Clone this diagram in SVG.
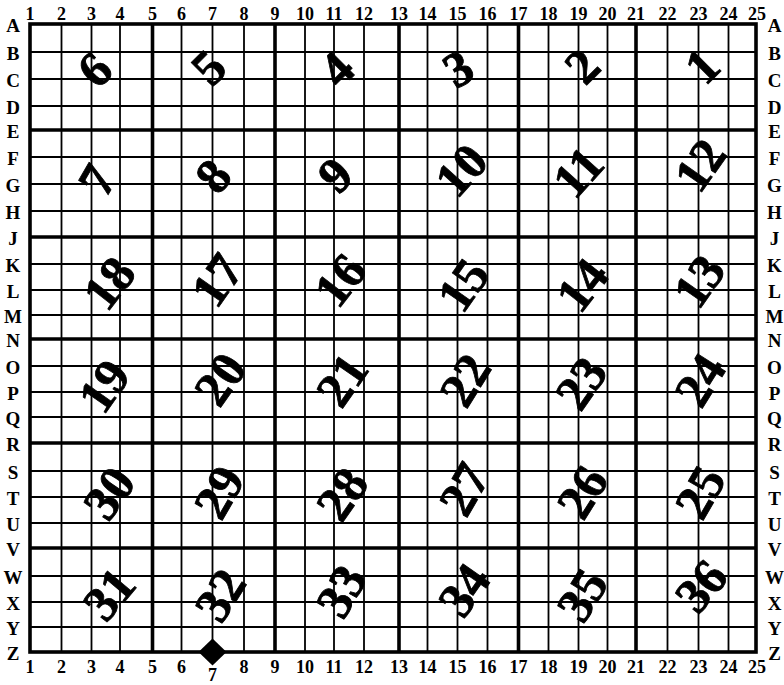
<svg xmlns="http://www.w3.org/2000/svg" width="784" height="685" viewBox="0 0 784 685">
<style>
.thin{stroke:#000;stroke-width:1.8;fill:none}
.thick{stroke:#000;stroke-width:3.6;fill:none}
.lab{font-family:"Liberation Serif","Times New Roman",serif;font-weight:bold;font-size:18px;fill:#000;text-anchor:middle}
.let{font-family:"Liberation Serif","Times New Roman",serif;font-weight:bold;font-size:19px;fill:#000}
.num{font-family:"Liberation Serif","Times New Roman",serif;font-weight:bold;font-size:50px;fill:#000;text-anchor:middle;stroke:#000;stroke-width:0.8}
</style>
<rect width="784" height="685" fill="#fff"/>
<g id="connectors">
<g id="thin-lines" class="thin">
<line x1="61.5" y1="24" x2="61.5" y2="652"/><line x1="91.5" y1="24" x2="91.5" y2="652"/><line x1="120" y1="24" x2="120" y2="652"/>
<line x1="181.5" y1="24" x2="181.5" y2="652"/><line x1="212.5" y1="24" x2="212.5" y2="652"/><line x1="244" y1="24" x2="244" y2="652"/>
<line x1="305" y1="24" x2="305" y2="652"/><line x1="334" y1="24" x2="334" y2="652"/><line x1="364" y1="24" x2="364" y2="652"/>
<line x1="427.5" y1="24" x2="427.5" y2="652"/><line x1="457.5" y1="24" x2="457.5" y2="652"/><line x1="487.5" y1="24" x2="487.5" y2="652"/>
<line x1="548.5" y1="24" x2="548.5" y2="652"/><line x1="578.5" y1="24" x2="578.5" y2="652"/><line x1="607.5" y1="24" x2="607.5" y2="652"/>
<line x1="667.5" y1="24" x2="667.5" y2="652"/><line x1="698.5" y1="24" x2="698.5" y2="652"/><line x1="728.5" y1="24" x2="728.5" y2="652"/>
<line x1="30" y1="52" x2="756" y2="52"/><line x1="30" y1="79" x2="756" y2="79"/><line x1="30" y1="106" x2="756" y2="106"/>
<line x1="30" y1="157" x2="756" y2="157"/><line x1="30" y1="184" x2="756" y2="184"/><line x1="30" y1="211" x2="756" y2="211"/>
<line x1="30" y1="264" x2="756" y2="264"/><line x1="30" y1="290" x2="756" y2="290"/><line x1="30" y1="315" x2="756" y2="315"/>
<line x1="30" y1="366" x2="756" y2="366"/><line x1="30" y1="392" x2="756" y2="392"/><line x1="30" y1="417" x2="756" y2="417"/>
<line x1="30" y1="471" x2="756" y2="471"/><line x1="30" y1="497" x2="756" y2="497"/><line x1="30" y1="523" x2="756" y2="523"/>
<line x1="30" y1="576" x2="756" y2="576"/><line x1="30" y1="602" x2="756" y2="602"/><line x1="30" y1="627" x2="756" y2="627"/>
</g>
<g id="thick-lines" class="thick">
<line x1="152.5" y1="24" x2="152.5" y2="652"/><line x1="275" y1="24" x2="275" y2="652"/><line x1="399" y1="24" x2="399" y2="652"/>
<line x1="518.5" y1="24" x2="518.5" y2="652"/><line x1="636" y1="24" x2="636" y2="652"/>
<line x1="30" y1="130" x2="756" y2="130"/><line x1="30" y1="237" x2="756" y2="237"/><line x1="30" y1="339" x2="756" y2="339"/>
<line x1="30" y1="443" x2="756" y2="443"/><line x1="30" y1="548" x2="756" y2="548"/>
<rect x="30" y="24" width="726" height="628"/>
</g>
</g>
<g id="top-labels" class="lab">
<text x="30" y="20">1</text><text x="61.5" y="20">2</text><text x="91.5" y="20">3</text><text x="120" y="20">4</text><text x="152.5" y="20">5</text>
<text x="181.5" y="20">6</text><text x="212.5" y="20">7</text><text x="244" y="20">8</text><text x="275" y="20">9</text><text x="305" y="20">10</text>
<text x="334" y="20">11</text><text x="364" y="20">12</text><text x="399" y="20">13</text><text x="427.5" y="20">14</text><text x="457.5" y="20">15</text>
<text x="487.5" y="20">16</text><text x="518.5" y="20">17</text><text x="548.5" y="20">18</text><text x="578.5" y="20">19</text><text x="607.5" y="20">20</text>
<text x="636" y="20">21</text><text x="667.5" y="20">22</text><text x="698.5" y="20">23</text><text x="728.5" y="20">24</text><text x="757" y="20">25</text>
</g>
<g id="bottom-labels" class="lab">
<text x="30" y="673">1</text><text x="61.5" y="673">2</text><text x="91.5" y="673">3</text><text x="120" y="673">4</text><text x="152.5" y="673">5</text>
<text x="181.5" y="673">6</text><text x="244" y="673">8</text><text x="275" y="673">9</text><text x="305" y="673">10</text>
<text x="334" y="673">11</text><text x="364" y="673">12</text><text x="399" y="673">13</text><text x="427.5" y="673">14</text><text x="457.5" y="673">15</text>
<text x="487.5" y="673">16</text><text x="518.5" y="673">17</text><text x="548.5" y="673">18</text><text x="578.5" y="673">19</text><text x="607.5" y="673">20</text>
<text x="636" y="673">21</text><text x="667.5" y="673">22</text><text x="698.5" y="673">23</text><text x="728.5" y="673">24</text><text x="757" y="673">25</text>
</g>
<g id="left-labels" class="let" text-anchor="middle">
<text x="13" y="31.5">A</text><text x="13" y="59.5">B</text><text x="13" y="86.5">C</text><text x="13" y="113.5">D</text><text x="13" y="137.5">E</text>
<text x="13" y="164.5">F</text><text x="13" y="191.5">G</text><text x="13" y="218.5">H</text><text x="13" y="244.5">J</text><text x="13" y="271.5">K</text>
<text x="13" y="297.5">L</text><text x="13" y="322.5">M</text><text x="13" y="346.5">N</text><text x="13" y="373.5">O</text><text x="13" y="399.5">P</text>
<text x="13" y="424.5">Q</text><text x="13" y="450.5">R</text><text x="13" y="478.5">S</text><text x="13" y="504.5">T</text><text x="13" y="530.5">U</text>
<text x="13" y="555.5">V</text><text x="13" y="583.5">W</text><text x="13" y="609.5">X</text><text x="13" y="634.5">Y</text><text x="13" y="659.5">Z</text>
</g>
<g id="right-labels" class="let" text-anchor="middle">
<text x="774.5" y="31.5">A</text><text x="774.5" y="59.5">B</text><text x="774.5" y="86.5">C</text><text x="774.5" y="113.5">D</text><text x="774.5" y="137.5">E</text>
<text x="774.5" y="164.5">F</text><text x="774.5" y="191.5">G</text><text x="774.5" y="218.5">H</text><text x="774.5" y="244.5">J</text><text x="774.5" y="271.5">K</text>
<text x="774.5" y="297.5">L</text><text x="774.5" y="322.5">M</text><text x="774.5" y="346.5">N</text><text x="774.5" y="373.5">O</text><text x="774.5" y="399.5">P</text>
<text x="774.5" y="424.5">Q</text><text x="774.5" y="450.5">R</text><text x="774.5" y="478.5">S</text><text x="774.5" y="504.5">T</text><text x="774.5" y="530.5">U</text>
<text x="774.5" y="555.5">V</text><text x="774.5" y="583.5">W</text><text x="774.5" y="609.5">X</text><text x="774.5" y="634.5">Y</text><text x="774.5" y="659.5">Z</text>
</g>
<g id="marker-7">
<polygon points="212.5,638.5 226.5,652 212.5,665.5 198.5,652" fill="#000"/>
<text class="lab" x="212.5" y="681" font-size="17px">7</text>
</g>
<g id="numbers" class="num">
<text id="n1" transform="translate(702,66) rotate(-45)" y="17">1</text>
<text id="n2" transform="translate(582,66) rotate(-45)" y="17">2</text>
<text id="n3" transform="translate(458,68.5) rotate(-30)" y="17">3</text>
<text id="n4" transform="translate(336.5,69) rotate(-45)" y="17">4</text>
<text id="n5" transform="translate(208.5,67.5) rotate(-45)" y="17">5</text>
<text id="n6" transform="translate(94.5,69.5) rotate(-45)" y="17">6</text>
<text id="n7" transform="translate(97,180) rotate(-60)" y="17">7</text>
<text id="n8" transform="translate(213,176) rotate(-50)" y="17">8</text>
<text id="n9" transform="translate(335,175) rotate(-45)" y="17">9</text>
<text id="n10" transform="translate(461,170) rotate(-48)" y="17">10</text>
<text id="n11" transform="translate(578,172) rotate(-48)" y="17">11</text>
<text id="n12" transform="translate(700,165) rotate(-55)" y="17">12</text>
<text id="n13" transform="translate(699,281) rotate(-55)" y="17">13</text>
<text id="n14" transform="translate(582,285) rotate(-52)" y="17">14</text>
<text id="n15" transform="translate(463,285) rotate(-55)" y="17">15</text>
<text id="n16" transform="translate(340,280) rotate(-52)" y="17">16</text>
<text id="n17" transform="translate(217,280) rotate(-55)" y="17">17</text>
<text id="n18" transform="translate(109,283) rotate(-52)" y="17">18</text>
<text id="n19" transform="translate(104,386) rotate(-55)" y="17">19</text>
<text id="n20" transform="translate(220,379) rotate(-55)" y="17">20</text>
<text id="n21" transform="translate(342,380) rotate(-55)" y="17">21</text>
<text id="n22" transform="translate(465,380) rotate(-58)" y="17">22</text>
<text id="n23" transform="translate(581,383) rotate(-55)" y="17">23</text>
<text id="n24" transform="translate(700,380) rotate(-58)" y="17">24</text>
<text id="n25" transform="translate(700,492) rotate(-60)" y="17">25</text>
<text id="n26" transform="translate(582,492) rotate(-58)" y="17">26</text>
<text id="n27" transform="translate(464,489) rotate(-60)" y="17">27</text>
<text id="n28" transform="translate(342,494) rotate(-55)" y="17">28</text>
<text id="n29" transform="translate(219,492) rotate(-60)" y="17">29</text>
<text id="n30" transform="translate(109,493) rotate(-55)" y="17">30</text>
<text id="n31" transform="translate(109,594) rotate(-50)" y="17">31</text>
<text id="n32" transform="translate(220,595) rotate(-58)" y="17">32</text>
<text id="n33" transform="translate(341,591) rotate(-60)" y="17">33</text>
<text id="n34" transform="translate(464,590) rotate(-55)" y="17">34</text>
<text id="n35" transform="translate(582,595) rotate(-58)" y="17">35</text>
<text id="n36" transform="translate(701,586) rotate(-50)" y="17">36</text>
</g>
</svg>
